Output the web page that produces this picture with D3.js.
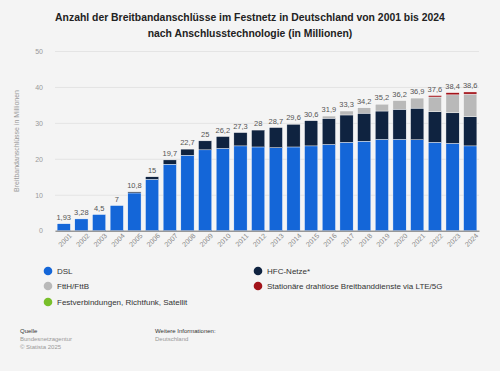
<!DOCTYPE html>
<html>
<head>
<meta charset="utf-8">
<script src="https://cdn.jsdelivr.net/npm/d3@7"></script>
<style>
  body { margin: 0; background: #f4f4f4; }
  svg { font-family: "Liberation Sans", Arial, sans-serif; }
</style>
</head>
<body>
<svg width="500" height="371"></svg>
<script>
// data (in Millionen)
var years = ["2001","2002","2003","2004","2005","2006","2007","2008","2009","2010","2011","2012",
             "2013","2014","2015","2016","2017","2018","2019","2020","2021","2022","2023","2024"];
var dsl   = [1.93, 3.28, 4.5, 7, 10.5, 14.3, 18.5, 21.0, 22.5, 22.9, 23.6, 23.3,
             23.1, 23.3, 23.6, 24.0, 24.6, 24.9, 25.4, 25.4, 25.3, 24.6, 24.3, 23.6];
var hfc   = [0, 0, 0, 0, 0.3, 0.7, 1.2, 1.7, 2.5, 3.3, 3.7, 4.7,
             5.6, 6.3, 7.0, 7.3, 7.6, 7.8, 7.9, 8.4, 8.8, 8.5, 8.5, 8.1];
var ftth  = [0, 0, 0, 0, 0, 0, 0, 0, 0, 0, 0, 0,
             0, 0, 0, 0.6, 1.1, 1.5, 1.9, 2.4, 2.8, 4.1, 5.0, 6.3];
var lte   = [0, 0, 0, 0, 0, 0, 0, 0, 0, 0, 0, 0,
             0, 0, 0, 0, 0, 0, 0, 0, 0, 0.4, 0.6, 0.6];
var festv = [0, 0, 0, 0, 0, 0, 0, 0, 0, 0, 0, 0,
             0, 0, 0, 0, 0, 0, 0, 0, 0, 0, 0, 0];
var totals = [1.93, 3.28, 4.5, 7, 10.8, 15, 19.7, 22.7, 25, 26.2, 27.3, 28,
              28.7, 29.6, 30.6, 31.9, 33.3, 34.2, 35.2, 36.2, 36.9, 37.6, 38.4, 38.6];
var yTicks = [0, 10, 20, 30, 40, 50];

var seriesNames = ["DSL", "HFC-Netze*", "FttH/FttB", "Stationäre drahtlose Breitbanddienste via LTE/5G",
                   "Festverbindungen, Richtfunk, Satellit"];
var seriesColors = ["#1466d8", "#0f2340", "#b9b9b9", "#a2131a", "#78bf2a"];

var rows = years.map(function (y, i) {
    return { year: y, s0: dsl[i], s1: hfc[i], s2: ftth[i], s3: lte[i], s4: festv[i] };
});
var keys = ["s0", "s1", "s2", "s3", "s4"];

var svg = d3.select("svg");

var xScale = d3.scaleBand().domain(years).range([55, 479]).paddingInner(0.25).paddingOuter(0.12);
var yScale = d3.scaleLinear().domain([0, 50]).range([230.7, 51]);

// title
svg.append("text")
    .attr("x", 250).attr("y", 21)
    .attr("text-anchor", "middle")
    .style("font-size", "10.4px").style("font-weight", "bold").style("fill", "#222")
    .text("Anzahl der Breitbandanschlüsse im Festnetz in Deutschland von 2001 bis 2024");
svg.append("text")
    .attr("x", 250).attr("y", 37)
    .attr("text-anchor", "middle")
    .style("font-size", "10.4px").style("font-weight", "bold").style("fill", "#222")
    .text("nach Anschlusstechnologie (in Millionen)");

// grid + y axis
var yAxis = svg.append("g")
    .attr("transform", "translate(55,0)")
    .call(d3.axisLeft(yScale).tickValues(yTicks).tickSize(-424).tickPadding(12));
yAxis.select(".domain").remove();
yAxis.selectAll(".tick line").attr("stroke", "#e0e0e0").attr("stroke-width", 0.8);
yAxis.selectAll(".tick text")
    .style("font-size", "7px").style("fill", "#999")
    .style("font-family", "Liberation Sans, Arial, sans-serif");

svg.append("text")
    .attr("transform", "translate(19,141) rotate(-90)")
    .attr("text-anchor", "middle")
    .style("font-size", "7px").style("fill", "#999")
    .text("Breitbandanschlüsse in Millionen");

// stacked bars
var stack = d3.stack().keys(keys)(rows);
svg.append("g")
    .selectAll("g")
    .data(stack)
    .enter()
    .append("g")
    .attr("fill", function (d, i) { return seriesColors[i]; })
    .selectAll("rect")
    .data(function (d) { return d; })
    .enter()
    .append("rect")
    .filter(function (d) { return d[1] - d[0] > 0; })
    .attr("x", function (d) { return xScale(d.data.year); })
    .attr("width", xScale.bandwidth())
    .attr("y", function (d) { return yScale(d[1]); })
    .attr("height", function (d) { return yScale(d[0]) - yScale(d[1]); })
    .attr("stroke", "#ffffff")
    .attr("stroke-width", 0.4);

// x axis
var xAxis = svg.append("g")
    .attr("transform", "translate(0,230.7)")
    .call(d3.axisBottom(xScale).tickSize(0).tickPadding(6));
xAxis.select(".domain").attr("stroke", "#555").attr("stroke-width", 0.8);
xAxis.selectAll(".tick text")
    .style("font-size", "7px").style("fill", "#888")
    .style("font-family", "Liberation Sans, Arial, sans-serif")
    .attr("text-anchor", "end")
    .attr("dx", "2")
    .attr("dy", "4")
    .attr("transform", "rotate(-45)");

// total labels
svg.append("g")
    .selectAll("text")
    .data(totals)
    .enter()
    .append("text")
    .attr("x", function (d, i) { return xScale(years[i]) + xScale.bandwidth() / 2; })
    .attr("y", function (d) { return yScale(d) - 4; })
    .attr("text-anchor", "middle")
    .style("font-size", "7.5px").style("fill", "#555")
    .text(function (d) { return String(d).replace(".", ","); });

// legend
var legendPos = [[48, 271], [258, 271], [48, 286], [258, 286], [48, 302]];
var legend = svg.append("g")
    .selectAll("g")
    .data(seriesNames)
    .enter()
    .append("g")
    .attr("transform", function (d, i) { return "translate(" + legendPos[i][0] + "," + legendPos[i][1] + ")"; });
legend.append("circle").attr("r", 4.3).attr("fill", function (d, i) { return seriesColors[i]; });
legend.append("text")
    .attr("x", 9).attr("dy", "0.35em")
    .style("font-size", "8px").style("fill", "#333")
    .text(function (d) { return d; });

// footer
var foot = svg.append("g").style("font-size", "6px");
foot.append("text").attr("x", 20).attr("y", 333).style("fill", "#333").text("Quelle");
foot.append("text").attr("x", 20).attr("y", 341).style("fill", "#999").text("Bundesnetzagentur");
foot.append("text").attr("x", 20).attr("y", 349).style("fill", "#999").text("© Statista 2025");
foot.append("text").attr("x", 155).attr("y", 333).style("fill", "#333").text("Weitere Informationen:");
foot.append("text").attr("x", 155).attr("y", 341).style("fill", "#999").text("Deutschland");
</script>
</body>
</html>
